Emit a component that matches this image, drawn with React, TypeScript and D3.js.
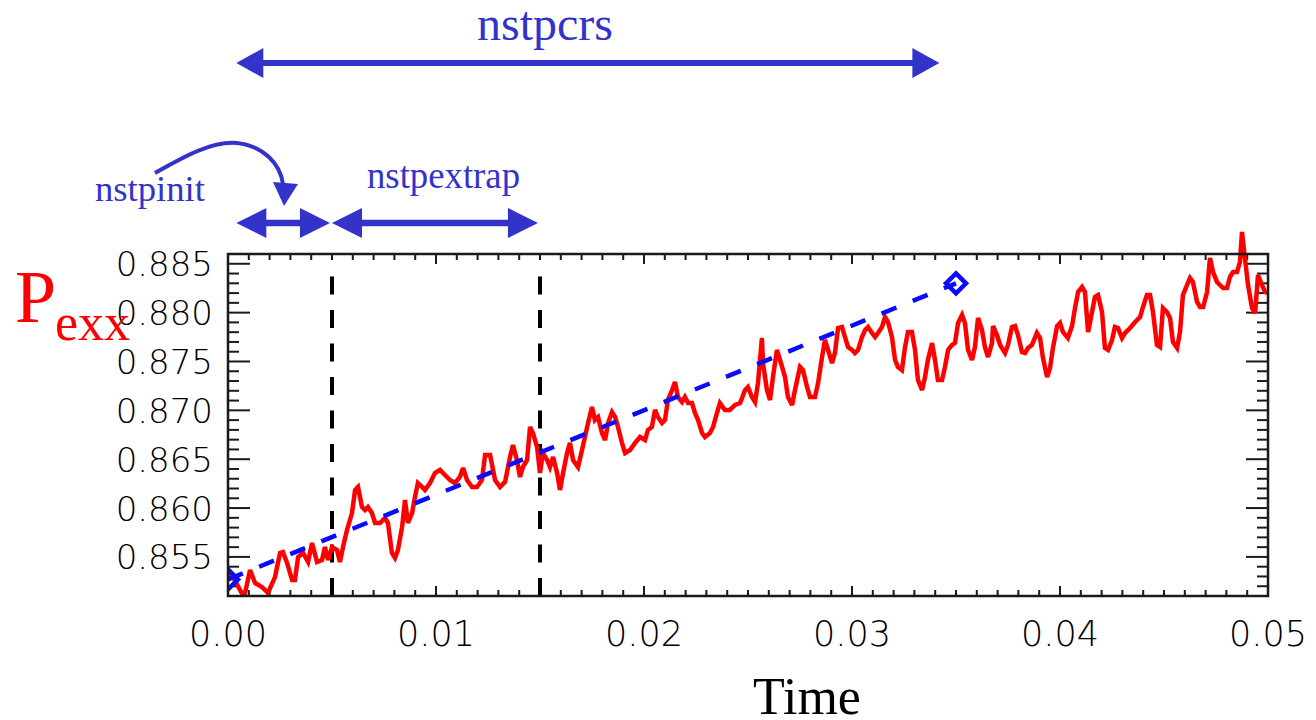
import React from 'react';
import * as d3 from 'd3';

// ---- data ----
const TIME = [
  0, 0.00024, 0.00066, 0.00082, 0.00106, 0.0013, 0.00163, 0.00192, 0.00226, 0.0025,
  0.00264, 0.00284, 0.00308, 0.00322, 0.00337, 0.00361, 0.00385, 0.00404, 0.00428, 0.00452,
  0.00466, 0.00481, 0.005, 0.00524, 0.00538, 0.00553, 0.00572, 0.00596, 0.00611, 0.00625,
  0.00644, 0.00659, 0.00673, 0.00692, 0.00707, 0.00731, 0.00755, 0.00769, 0.00788, 0.00803,
  0.00817, 0.00837, 0.00851, 0.00865, 0.00885, 0.00899, 0.00913, 0.00933, 0.00947, 0.00971,
  0.00995, 0.01019, 0.01043, 0.01067, 0.01091, 0.01115, 0.0113, 0.01149, 0.01173, 0.01197,
  0.01221, 0.01236, 0.0126, 0.01284, 0.01308, 0.01332, 0.01356, 0.0137, 0.01389, 0.01404,
  0.01418, 0.01438, 0.01452, 0.01466, 0.01486, 0.015, 0.01514, 0.01534, 0.01548, 0.01563,
  0.01582, 0.01596, 0.01611, 0.0163, 0.01644, 0.01659, 0.01683, 0.01702, 0.01716, 0.01731,
  0.0175, 0.01764, 0.01779, 0.01798, 0.01813, 0.01827, 0.01846, 0.01861, 0.01875, 0.01894,
  0.01909, 0.01933, 0.01957, 0.01981, 0.02005, 0.02019, 0.02038, 0.02053, 0.02067, 0.02087,
  0.02101, 0.02115, 0.02135, 0.02149, 0.02163, 0.02183, 0.02197, 0.02212, 0.02231, 0.02245,
  0.0226, 0.02279, 0.02293, 0.02317, 0.02332, 0.02351, 0.02365, 0.02389, 0.02413, 0.02438,
  0.02462, 0.02486, 0.025, 0.02519, 0.02534, 0.02548, 0.02567, 0.02572, 0.02591, 0.02606,
  0.0262, 0.02639, 0.02654, 0.02678, 0.02692, 0.02712, 0.02726, 0.0275, 0.02764, 0.02784,
  0.02798, 0.02822, 0.02837, 0.02856, 0.0287, 0.02885, 0.02904, 0.02918, 0.02933, 0.02952,
  0.02966, 0.02981, 0.03, 0.03014, 0.03029, 0.03048, 0.03063, 0.03077, 0.03096, 0.03111,
  0.03125, 0.03144, 0.03159, 0.03173, 0.03192, 0.03207, 0.03221, 0.0324, 0.03255, 0.03269,
  0.03288, 0.03303, 0.03317, 0.03337, 0.03351, 0.03365, 0.03385, 0.03399, 0.03413, 0.03433,
  0.03447, 0.03462, 0.03481, 0.03495, 0.0351, 0.03529, 0.03543, 0.03558, 0.03577, 0.03591,
  0.03606, 0.03625, 0.03639, 0.03654, 0.03673, 0.03678, 0.03697, 0.03712, 0.03736, 0.0375,
  0.03769, 0.03784, 0.03798, 0.03817, 0.03832, 0.03846, 0.03865, 0.03889, 0.03904, 0.03918,
  0.03938, 0.03952, 0.03966, 0.03986, 0.04, 0.04014, 0.04038, 0.04058, 0.04072, 0.04087,
  0.04106, 0.0412, 0.04135, 0.04154, 0.04168, 0.04183, 0.04202, 0.04216, 0.04231, 0.0425,
  0.04264, 0.04279, 0.04298, 0.04313, 0.04337, 0.04361, 0.04385, 0.04399, 0.04418, 0.04433,
  0.04447, 0.04466, 0.04481, 0.04495, 0.04514, 0.04529, 0.04543, 0.04563, 0.04577, 0.04591,
  0.04611, 0.04625, 0.04639, 0.04659, 0.04673, 0.04688, 0.04707, 0.04721, 0.04736, 0.04755,
  0.04769, 0.04784, 0.04803, 0.04817, 0.04832, 0.04851, 0.04865, 0.04875, 0.04889, 0.04904,
  0.04923, 0.04938, 0.04952, 0.04971, 0.04986, 0.05,
];
const PEXX = [
  0.85335, 0.85294, 0.85131, 0.85131, 0.85366, 0.85233, 0.85192, 0.85131, 0.85294, 0.8554,
  0.8555, 0.85438, 0.85264, 0.85264, 0.85499, 0.8554, 0.85448, 0.85642, 0.85448, 0.85468,
  0.85601, 0.85468, 0.85601, 0.85571, 0.85448, 0.85601, 0.85775, 0.85949, 0.86185, 0.86216,
  0.86011, 0.8598, 0.86011, 0.85949, 0.85847, 0.85847, 0.85898, 0.85847, 0.8554, 0.85489,
  0.85571, 0.85806, 0.86082, 0.85847, 0.85949, 0.86113, 0.86256, 0.86216, 0.86185, 0.86256,
  0.86359, 0.8639, 0.86338, 0.86287, 0.86256, 0.86318, 0.8641, 0.86287, 0.86216, 0.86216,
  0.86287, 0.86543, 0.86543, 0.86287, 0.86216, 0.86267, 0.86523, 0.86645, 0.86492, 0.86318,
  0.8642, 0.86492, 0.8683, 0.86768, 0.86625, 0.86359, 0.86563, 0.86492, 0.8642, 0.86523,
  0.86359, 0.86185, 0.86359, 0.86563, 0.86666, 0.86492, 0.8642, 0.86594, 0.86727, 0.8687,
  0.87034, 0.86901, 0.86932, 0.86768, 0.86696, 0.8687, 0.86983, 0.86932, 0.8683, 0.86666,
  0.86563, 0.86594, 0.86666, 0.86727, 0.86696, 0.86799, 0.8683, 0.87004, 0.86932, 0.8687,
  0.86901, 0.87106, 0.87208, 0.8729, 0.87137, 0.87085, 0.87137, 0.87075, 0.87075, 0.86973,
  0.86901, 0.86768, 0.86727, 0.86768, 0.8683, 0.86973, 0.87075, 0.87004, 0.87004, 0.87055,
  0.87075, 0.87208, 0.87239, 0.87137, 0.87085, 0.8728, 0.8774, 0.87484, 0.87208, 0.87106,
  0.87341, 0.87618, 0.87515, 0.87341, 0.87137, 0.87055, 0.87208, 0.87444, 0.87413, 0.87239,
  0.87137, 0.87137, 0.8728, 0.87546, 0.8772, 0.87618, 0.87484, 0.87587, 0.87843, 0.87853,
  0.87751, 0.87648, 0.87618, 0.87587, 0.87618, 0.87751, 0.87822, 0.87853, 0.87792, 0.87751,
  0.87792, 0.87853, 0.87955, 0.87904, 0.87751, 0.87515, 0.87444, 0.87413, 0.87648, 0.87802,
  0.87802, 0.87618, 0.87311, 0.87208, 0.87341, 0.87515, 0.87689, 0.87515, 0.87311, 0.87311,
  0.87444, 0.87618, 0.87669, 0.87689, 0.87894, 0.87976, 0.87894, 0.87618, 0.87515, 0.87648,
  0.87945, 0.87822, 0.87648, 0.87546, 0.87689, 0.87863, 0.87771, 0.87669, 0.87587, 0.87669,
  0.87853, 0.87863, 0.87771, 0.87597, 0.87587, 0.87638, 0.87669, 0.87792, 0.8774, 0.87536,
  0.87341, 0.87433, 0.87638, 0.87863, 0.87894, 0.87802, 0.8774, 0.87863, 0.88047, 0.88211,
  0.88262, 0.88211, 0.87802, 0.88006, 0.8816, 0.8818, 0.88006, 0.87638, 0.87618, 0.8772,
  0.87853, 0.87843, 0.8774, 0.87792, 0.87843, 0.87904, 0.87955, 0.88058, 0.8818, 0.8818,
  0.88006, 0.87669, 0.87648, 0.88047, 0.88006, 0.87945, 0.87699, 0.87638, 0.87802, 0.8818,
  0.88283, 0.88354, 0.88313, 0.88109, 0.88058, 0.88058, 0.88211, 0.88559, 0.88416, 0.88313,
  0.88283, 0.88252, 0.88252, 0.88365, 0.88416, 0.88416, 0.88518, 0.88825, 0.88559, 0.88283,
  0.88047, 0.87996, 0.88385, 0.88283, 0.88211, 0.88201,
];

const EXTRAP_T = [0, 0.035];
const EXTRAP_V = [0.8527, 0.883];
const MARK_T = [0.005, 0.015];
const MARK_TOP = 0.88375;

const X_DOMAIN = [0, 0.05];
const Y_DOMAIN = [0.851, 0.886];
const X_TICKS = [0, 0.01, 0.02, 0.03, 0.04, 0.05];
const X_TICK_LABELS = ['0.00', '0.01', '0.02', '0.03', '0.04', '0.05'];
const Y_TICKS = [0.855, 0.86, 0.865, 0.87, 0.875, 0.88, 0.885];
const Y_TICK_LABELS = ['0.855', '0.860', '0.865', '0.870', '0.875', '0.880', '0.885'];
const X_MINOR_STEP = 0.001;
const Y_MINOR_STEP = 0.001;

// annotation spans (in Time units)
const SPAN_CRS = [0.0004, 0.0342];
const SPAN_INIT = [0.0004, 0.0049];
const SPAN_EXTRAP = [0.0050, 0.0149];

const L = 228, R = 1268, T = 254, B = 596;
const ANN = '#3333cc';
const AXIS = '#1a1a1a';
const TICK_FONT = '"DejaVu Sans", "Liberation Sans", sans-serif';
const SERIF = '"Liberation Serif", "Times New Roman", serif';

function DoubleArrow({ x1, x2, y, head = 27, half = 15, w = 6 }: any) {
  return (
    <g fill={ANN} stroke="none">
      <rect x={x1 + head - 1} y={y - w / 2} width={x2 - x1 - 2 * head + 2} height={w} />
      <polygon points={`${x1},${y} ${x1 + head},${y - half} ${x1 + head},${y + half}`} />
      <polygon points={`${x2},${y} ${x2 - head},${y - half} ${x2 - head},${y + half}`} />
    </g>
  );
}

export default function App() {
  const x = d3.scaleLinear().domain(X_DOMAIN).range([L, R]);
  const y = d3.scaleLinear().domain(Y_DOMAIN).range([B, T]);

  const data = TIME.map((t, i) => [t, PEXX[i]] as [number, number]);
  const line = d3.line<[number, number]>().x(d => x(d[0])).y(d => y(d[1]));
  const extrap = EXTRAP_T.map((t, i) => [t, EXTRAP_V[i]] as [number, number]);

  const nx = Math.round((X_DOMAIN[1] - X_DOMAIN[0]) / X_MINOR_STEP);
  const xMinor = d3.range(0, nx + 1).map(i => ({ v: X_DOMAIN[0] + i * X_MINOR_STEP, major: i % 10 === 0 }));
  const ny = Math.round((Y_DOMAIN[1] - Y_DOMAIN[0]) / Y_MINOR_STEP);
  const yMinor = d3.range(0, ny + 1).map(i => {
    const v = Y_DOMAIN[0] + i * Y_MINOR_STEP;
    const major = Y_TICKS.some(t => Math.abs(t - v) < 1e-7);
    return { v, major };
  });

  const diamond = (cx: number, cy: number, r = 10) =>
    `M${cx},${cy - r} L${cx + r},${cy} L${cx},${cy + r} L${cx - r},${cy} Z`;

  return (
    <svg width={1316} height={720} style={{ position: 'absolute', left: 0, top: 0, background: '#fff' }}>
      <defs>
        <clipPath id="plotclip">
          <rect x={L} y={T} width={R - L} height={B - T} />
        </clipPath>
      </defs>
      <rect x={0} y={0} width={1316} height={720} fill="#fff" />

      {/* ticks */}
      <g stroke={AXIS} strokeWidth={2}>
        {xMinor.map((d, i) => {
          const len = d.major ? 10 : 6;
          const px = x(d.v);
          return (
            <g key={'xt' + i}>
              <line x1={px} x2={px} y1={B} y2={B - len} />
              <line x1={px} x2={px} y1={T} y2={T + len} />
            </g>
          );
        })}
        {yMinor.map((d, i) => {
          const len = d.major ? 22 : 11;
          const py = y(d.v);
          return (
            <g key={'yt' + i}>
              <line x1={L} x2={L + len} y1={py} y2={py} />
              <line x1={R} x2={R - len} y1={py} y2={py} />
            </g>
          );
        })}
      </g>

      {/* tick labels */}
      <g fontFamily={TICK_FONT} fontSize={34} fill="#000" fontWeight={200}>
        {Y_TICKS.map((v, i) => (
          <text key={'yl' + i} x={L - 15} y={y(v) + 12.5} textAnchor="end">{Y_TICK_LABELS[i]}</text>
        ))}
        {X_TICKS.map((v, i) => (
          <text key={'xl' + i} x={x(v)} y={646} fontSize={35} textAnchor="middle">{X_TICK_LABELS[i]}</text>
        ))}
      </g>

      {/* vertical dashed markers */}
      {MARK_T.map((t, i) => (
        <path key={'m' + i} d={`M${x(t)},${B} L${x(t)},${y(MARK_TOP)}`} stroke="#000" strokeWidth={4}
          strokeDasharray="18 15.5" fill="none" />
      ))}

      {/* data */}
      <path d={line(data) || ''} fill="none" stroke="#ff0000" strokeWidth={4.5} strokeLinejoin="miter" strokeMiterlimit={3} />

      {/* extrapolation */}
      <path d={line(extrap) || ''} fill="none" stroke="#0a0aff" strokeWidth={4.5} strokeDasharray="16 17.6" />
      <path d={diamond(x(EXTRAP_T[0]), y(EXTRAP_V[0]))} fill="none" stroke="#0a0aff" strokeWidth={4.5}
        clipPath="url(#plotclip)" />
      <path d={diamond(x(EXTRAP_T[1]), y(EXTRAP_V[1]))} fill="none" stroke="#0a0aff" strokeWidth={4.5} />

      {/* frame */}
      <rect x={L} y={T} width={R - L} height={B - T} fill="none" stroke={AXIS} strokeWidth={2.5} />

      {/* axis titles */}
      <text x={807} y={714} fontFamily={SERIF} fontSize={52} textAnchor="middle" fill="#000">Time</text>
      <text fontFamily={SERIF} fill="#ff0000">
        <tspan x={15} y={322} fontSize={74}>P</tspan>
        <tspan x={55} y={340} fontSize={52}>exx</tspan>
      </text>

      {/* annotations */}
      <text x={545} y={40} fontFamily={SERIF} fontSize={48} fill={ANN} textAnchor="middle">nstpcrs</text>
      <DoubleArrow x1={x(SPAN_CRS[0])} x2={x(SPAN_CRS[1])} y={63} />
      <text x={95} y={201} fontFamily={SERIF} fontSize={36} fill={ANN} textLength={110} lengthAdjust="spacingAndGlyphs">nstpinit</text>
      <text x={367} y={188} fontFamily={SERIF} fontSize={37} fill={ANN} textLength={153} lengthAdjust="spacingAndGlyphs">nstpextrap</text>
      <DoubleArrow x1={x(SPAN_INIT[0])} x2={x(SPAN_INIT[1])} y={223} head={30} half={15} w={6.5} />
      <DoubleArrow x1={x(SPAN_EXTRAP[0])} x2={x(SPAN_EXTRAP[1])} y={223} head={30} half={15} w={6.5} />
      <path d="M155,173 C185,156 212,141 237,143 C263,146 280,163 283,184" fill="none" stroke={ANN} strokeWidth={4} />
      <polygon points="273,182 298,184 284,206" fill={ANN} />
    </svg>
  );
}
